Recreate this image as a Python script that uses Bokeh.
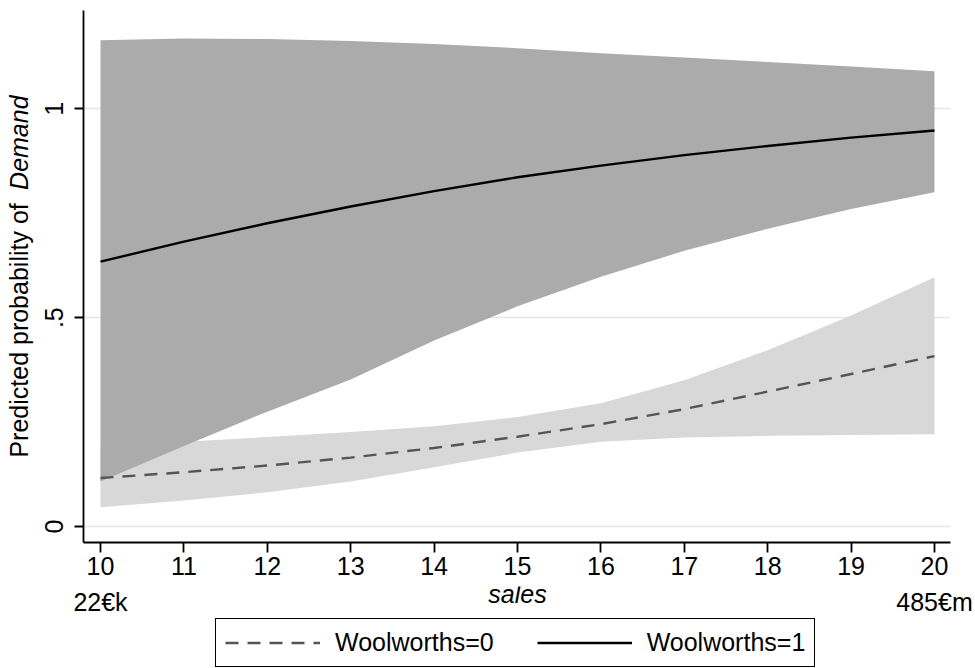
import math
from bokeh.plotting import figure
from bokeh.layouts import row, column
from bokeh.models import Range1d, FixedTicker, Legend, LegendItem, ColumnDataSource
from bokeh.core.properties import value
from bokeh.embed import file_html
from bokeh.resources import INLINE

# ---- data ----
sales = [10, 11, 12, 13, 14, 15, 16, 17, 18, 19, 20]
w1_mean = [0.634, 0.682, 0.726, 0.766, 0.803, 0.836, 0.864, 0.889, 0.911, 0.931, 0.948]
w1_hi   = [1.164, 1.168, 1.167, 1.162, 1.155, 1.145, 1.133, 1.123, 1.112, 1.101, 1.090]
w1_lo   = [0.108, 0.193, 0.275, 0.352, 0.445, 0.527, 0.598, 0.660, 0.713, 0.760, 0.800]
w0_mean = [0.116, 0.130, 0.146, 0.165, 0.188, 0.215, 0.245, 0.281, 0.323, 0.365, 0.408]
w0_hi   = [0.195, 0.203, 0.214, 0.226, 0.240, 0.262, 0.295, 0.350, 0.422, 0.505, 0.597]
w0_lo   = [0.046, 0.062, 0.082, 0.108, 0.142, 0.177, 0.203, 0.213, 0.217, 0.219, 0.221]
y_ticks = [0, 0.5, 1]
y_tick_labels = {0: "0", 0.5: ".5", 1: "1"}
x_ticks = sales
x_end_ticks = [10, 20]
x_end_labels = ["22€k", "485€m"]
legend_labels = ["Woolworths=0", "Woolworths=1"]
y_title_plain = "Predicted probability of"
y_title_italic = "Demand"
x_title = "sales"

FONT = "Liberation Sans"
FS = "25px"

src = ColumnDataSource(dict(x=sales, m1=w1_mean, h1=w1_hi, l1=w1_lo,
                            m0=w0_mean, h0=w0_hi, l0=w0_lo))

yr = Range1d(-0.0383, 1.2353)
X0, X1 = 9.796, 20.192
FW, FH = 867, 532
LEFT, RIGHT, TOP, BOTTOM_AX = 83, 25, 10, 44
px_per_x = FW / (X1 - X0)

# ---------------- main plot ----------------
p = figure(frame_width=FW, frame_height=FH, output_backend="svg", toolbar_location=None,
           x_range=Range1d(X0, X1), y_range=yr,
           min_border_left=LEFT - 40, min_border_right=RIGHT, min_border_top=TOP,
           min_border_bottom=BOTTOM_AX)
p.outline_line_color = None

p.xgrid.grid_line_color = None
p.ygrid.grid_line_color = "#e6e6e6"
p.ygrid.grid_line_width = 1.5
p.ygrid.ticker = FixedTicker(ticks=y_ticks)

p.varea(x="x", y1="l0", y2="h0", source=src, fill_color="#d8d8d8")
p.varea(x="x", y1="l1", y2="h1", source=src, fill_color="#ababab")

p.line(x="x", y="m0", source=src, line_color="#555555", line_width=2.4, line_dash="13 9")
p.line(x="x", y="m1", source=src, line_color="#000000", line_width=2.4)

xa = p.xaxis[0]
xa.ticker = FixedTicker(ticks=x_ticks)
xa.major_label_text_font = FONT
xa.major_label_text_font_size = FS
xa.major_label_text_color = "black"
xa.major_tick_out = 10
xa.major_tick_in = 0
xa.minor_tick_out = 0
xa.minor_tick_in = 0
xa.major_label_standoff = 4
xa.axis_line_width = 1.8
xa.major_tick_line_width = 1.8

ya = p.yaxis[0]
ya.ticker = FixedTicker(ticks=y_ticks)
ya.major_label_overrides = y_tick_labels
ya.major_label_orientation = "vertical"
ya.major_label_text_font = FONT
ya.major_label_text_font_size = FS
ya.major_label_text_color = "black"
ya.major_tick_out = 9
ya.major_tick_in = 0
ya.minor_tick_out = 0
ya.minor_tick_in = 0
ya.major_label_standoff = 11
ya.axis_line_width = 1.8
ya.major_tick_line_width = 1.8

# ---------------- y-axis title strip ----------------
lab = figure(frame_width=40, frame_height=FH, output_backend="svg", toolbar_location=None,
             x_range=Range1d(0, 1), y_range=yr,
             min_border_left=0, min_border_right=0, min_border_top=TOP, min_border_bottom=0)
lab.axis.visible = False
lab.grid.visible = False
lab.outline_line_color = None
lab.text(x=[0.47], y=[0.165], text=[y_title_plain], angle=math.pi / 2,
         text_font=value(FONT), text_font_size=FS, text_align="left", text_baseline="middle",
         text_color="black")
lab.text(x=[0.47], y=[1.032], text=[y_title_italic], angle=math.pi / 2,
         text_font=value(FONT), text_font_size=FS, text_font_style="italic",
         text_align="right", text_baseline="middle", text_color="black")

# ---------------- bottom strip: end labels, x title, legend ----------------
BH = 668 - (TOP + FH + BOTTOM_AX)
OFF = 3  # strip range starts above the series values, so its line samples stay clipped
bot = figure(frame_width=975, frame_height=BH, output_backend="svg", toolbar_location=None,
             x_range=Range1d(X0 - LEFT / px_per_x, X1 + RIGHT / px_per_x),
             y_range=Range1d(OFF, BH + OFF), min_border=0)
bot.axis.visible = False
bot.grid.visible = False
bot.outline_line_color = None
bot.text(x=x_end_ticks, y=[BH + OFF - 15] * 2, text=x_end_labels, text_font=value(FONT),
         text_font_size=FS, text_align="center", text_baseline="alphabetic", text_color="black")
bot.text(x=[(sales[0] + sales[-1]) / 2], y=[BH + OFF - 7], text=[x_title], text_font=value(FONT),
         text_font_size=FS, text_font_style="italic", text_align="center",
         text_baseline="alphabetic", text_color="black")

# legend samples: same series and styles as the main plot (lie outside this strip's range)
g0 = bot.line(x="x", y="m0", source=src, line_color="#555555", line_width=2.4, line_dash="13 9")
g1 = bot.line(x="x", y="m1", source=src, line_color="#000000", line_width=2.4)
legend = Legend(items=[LegendItem(label=legend_labels[0], renderers=[g0]),
                       LegendItem(label=legend_labels[1], renderers=[g1])],
                orientation="horizontal", location=(215, 1),
                label_text_font=FONT, label_text_font_size=FS, label_text_color="black",
                glyph_width=95, glyph_height=25, label_standoff=15, spacing=43,
                padding=9, margin=0, border_line_color="black", border_line_alpha=1.0,
                border_line_width=1.2, label_height=25)
bot.add_layout(legend, "center")

layout = column(row(lab, p), bot)

open("out.html", "w").write(file_html(layout, INLINE))
